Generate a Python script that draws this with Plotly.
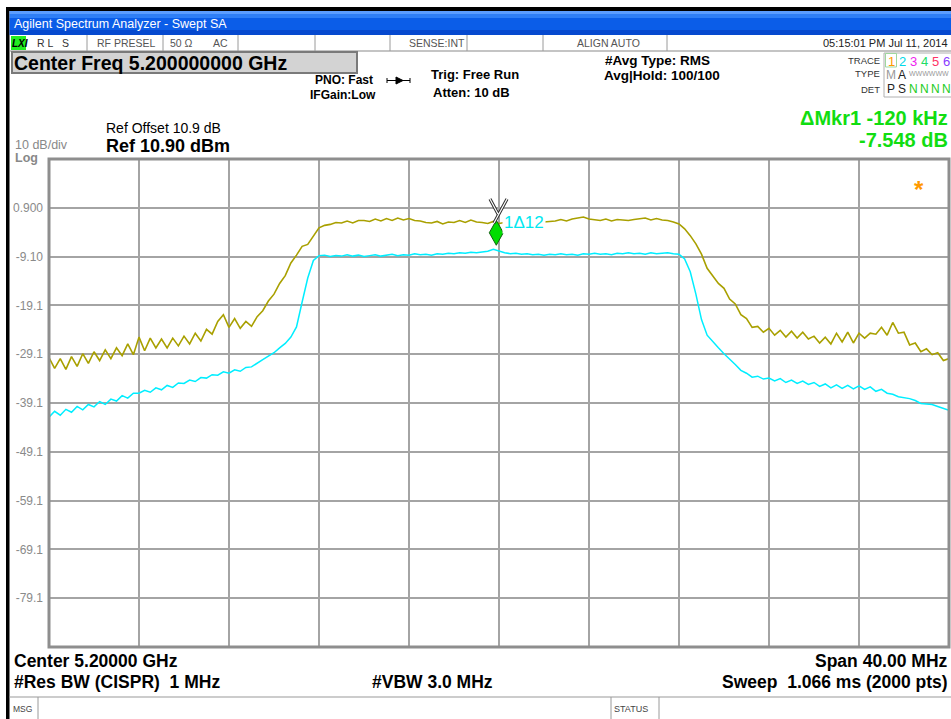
import numpy as np
import plotly.graph_objects as go

# ---------------- data ----------------
CENTER_MHZ = 5200.0
SPAN_MHZ = 40.0
REF_LEVEL_DBM = 10.9
DB_PER_DIV = 10.0
N_DIV = 10

# Trace 1 (max hold, olive) in dBm, 0.25 MHz steps from 5180 to 5220 MHz
trace1_dbm = [
    -29.8, -32.0, -30.0, -32.2, -29.6, -31.6, -29.0, -31.0,
    -28.6, -30.4, -28.2, -30.0, -27.8, -29.4, -27.0, -29.2,
    -25.6, -28.4, -25.8, -27.8, -26.0, -27.8, -25.8, -27.4,
    -25.4, -27.0, -24.8, -26.4, -24.0, -25.0, -22.4, -21.0,
    -23.6, -21.8, -23.8, -22.4, -23.4, -21.4, -20.2, -18.2,
    -16.8, -14.6, -13.0, -10.4, -8.8, -7.0, -6.6, -4.8,
    -3.2, -2.7, -2.5, -2.1, -2.2, -1.8, -2.2, -1.7,
    -1.7, -1.9, -1.4, -1.8, -1.3, -1.7, -1.2, -1.6,
    -1.3, -1.7, -1.8, -2.1, -2.2, -1.9, -2.4, -2.0,
    -2.1, -1.7, -2.1, -1.6, -2.0, -2.1, -2.3, -1.9,
    -2.3, -2.1, -1.9, -2.1, -1.7, -2.1, -1.8, -1.7,
    -2.0, -1.9, -1.8, -1.5, -1.8, -1.4, -1.2, -1.0,
    -1.4, -1.5, -1.7, -1.4, -1.8, -1.5, -1.6, -1.7,
    -1.5, -1.4, -1.2, -1.6, -1.3, -1.6, -1.7, -2.0,
    -2.4, -3.4, -4.8, -6.5, -8.6, -11.5, -13.0, -14.6,
    -15.6, -17.8, -18.8, -21.0, -21.8, -23.6, -23.4, -24.6,
    -23.8, -25.2, -24.2, -25.6, -24.4, -25.8, -24.6, -26.0,
    -25.4, -26.8, -25.6, -27.0, -24.8, -26.6, -24.6, -26.8,
    -24.8, -25.8, -24.8, -25.0, -23.6, -25.2, -22.6, -24.8,
    -24.6, -27.2, -26.8, -28.6, -28.0, -29.2, -28.8, -30.4,
    -30.0,
]

# Trace 2 (average, cyan) in dBm, same frequency grid
trace2_dbm = [
    -42.0, -40.8, -41.6, -40.4, -41.0, -39.8, -40.5, -39.4,
    -39.9, -38.8, -39.4, -38.3, -38.7, -37.6, -38.1, -37.1,
    -37.1, -36.5, -36.9, -36.0, -36.4, -35.5, -35.9, -35.0,
    -35.1, -34.4, -34.7, -33.9, -34.0, -33.3, -33.4, -32.7,
    -33.0, -32.3, -32.6, -31.8, -31.7, -30.9, -30.2, -29.5,
    -28.8, -27.8, -26.9, -25.6, -23.5, -18.4, -13.5, -9.9,
    -8.9, -8.8, -9.1, -8.9, -9.0, -8.7, -9.0, -8.8,
    -9.1, -8.9, -8.7, -9.0, -8.8, -8.6, -8.9, -8.7,
    -8.8, -8.5, -8.7, -8.6, -8.8, -8.5, -8.6, -8.4,
    -8.5, -8.3, -8.4, -8.2, -8.3, -8.1, -8.0, -7.6,
    -8.0, -8.3, -8.5, -8.4, -8.6, -8.5, -8.7, -8.6,
    -8.8, -8.6, -8.7, -8.5, -8.7, -8.6, -8.8, -8.5,
    -8.6, -8.4, -8.6, -8.5, -8.7, -8.4, -8.5, -8.3,
    -8.5, -8.4, -8.6, -8.3, -8.5, -8.4, -8.3, -8.5,
    -8.6, -9.6, -12.2, -16.8, -22.0, -25.2, -26.6, -27.8,
    -29.0, -30.0, -31.2, -32.4, -33.0, -33.8, -33.6, -34.2,
    -34.0, -34.6, -34.1, -34.9, -34.4, -35.1, -34.6, -35.3,
    -34.9, -35.7, -35.2, -36.0, -35.4, -36.1, -35.5, -36.2,
    -35.6, -36.3, -35.8, -36.7, -36.3, -37.1, -37.3, -37.8,
    -38.0, -38.2, -38.6, -39.2, -39.3, -39.4, -39.8, -40.2,
    -40.6,
]

y_tick_vals = [0.9, -9.1, -19.1, -29.1, -39.1, -49.1, -59.1, -69.1, -79.1]
y_tick_text = ["0.900", "-9.10", "-19.1", "-29.1", "-39.1", "-49.1", "-59.1", "-69.1", "-79.1"]

MKR1_FREQ_MHZ = 5199.88     # delta marker 1 on trace 2
MKR1_LEVEL_DBM = -7.8
MKR2_FREQ_MHZ = 5200.0      # reference marker on trace 1
MKR2_LEVEL_DBM = -2.0

freq_mhz = np.linspace(CENTER_MHZ - SPAN_MHZ / 2, CENTER_MHZ + SPAN_MHZ / 2, len(trace1_dbm))
freq2_mhz = np.linspace(CENTER_MHZ - SPAN_MHZ / 2, CENTER_MHZ + SPAN_MHZ / 2, len(trace2_dbm))

# ---------------- layout geometry ----------------
W, H = 951, 719
ML, MR, MT, MB = 49, 2, 159, 72
PW = W - ML - MR
PH = H - MT - MB


def px(x):
    return (x - ML) / PW


def py(y):
    return (H - MB - y) / PH


FONT = "Liberation Sans"

fig = go.Figure()
fig.add_trace(go.Scatter(x=freq_mhz, y=trace1_dbm, mode="lines",
                         line=dict(color="#a9a000", width=1.6), hoverinfo="skip"))
fig.add_trace(go.Scatter(x=freq2_mhz, y=trace2_dbm, mode="lines",
                         line=dict(color="#00eeff", width=1.5), hoverinfo="skip"))

shapes = []


def rect(x0, y0, x1, y1, fill=None, line=None, lw=0):
    shapes.append(dict(type="rect", xref="paper", yref="paper",
                       x0=px(x0), x1=px(x1), y0=py(y1), y1=py(y0),
                       fillcolor=fill if fill else "rgba(0,0,0,0)",
                       line=dict(color=line if line else "rgba(0,0,0,0)", width=lw),
                       layer="above"))


def hline(x0, x1, y, color, lw=1):
    shapes.append(dict(type="line", xref="paper", yref="paper",
                       x0=px(x0), x1=px(x1), y0=py(y), y1=py(y),
                       line=dict(color=color, width=lw), layer="above"))


def vline(x, y0, y1, color, lw=1):
    shapes.append(dict(type="line", xref="paper", yref="paper",
                       x0=px(x), x1=px(x), y0=py(y0), y1=py(y1),
                       line=dict(color=color, width=lw), layer="above"))


# outer black frame
rect(6, 7, W, 11, fill="black")
rect(6, 7, 9.5, H, fill="black")
# title bar gradient
rect(9.5, 11, W, 14, fill="#5b9dff")
rect(9.5, 14, W, 18, fill="#2f7ff6")
rect(9.5, 18, W, 30, fill="#0b5de8")
rect(9.5, 30, W, 35, fill="#0649cf")
# status row
hline(9.5, W, 51, "#8a8a8a", 1.2)
for sx in [87, 163, 238, 315, 390, 467, 543, 667]:
    vline(sx, 35, 51, "#9a9a9a", 1)
rect(11, 36, 26, 50, fill="#22ee22")
# Center Freq box
rect(12, 52, 357, 73, fill="#d3d3d3", line="#7a7a7a", lw=2)
# Trace panel box
rect(884, 53, 952, 97, fill="white", line="#b0b0b0", lw=1)
rect(885.5, 53.5, 896.5, 67, fill=None, line="#9fd79f", lw=1)
# PNO arrow
hline(387, 410, 80.5, "black", 1)
vline(387, 78, 83, "black", 1)
vline(410, 78, 83, "black", 1)
shapes.append(dict(type="path", xref="paper", yref="paper",
                   path=f"M {px(396)},{py(77)} L {px(403)},{py(80.5)} L {px(396)},{py(84)} Z",
                   fillcolor="black", line=dict(color="black", width=1), layer="above"))
# message bar
hline(9.5, W, 697, "#9a9a9a", 1.2)
vline(38, 697, H, "#9a9a9a", 1)
vline(611, 697, H, "#9a9a9a", 1)
vline(659, 697, H, "#9a9a9a", 1)
# plot border
shapes.append(dict(type="rect", xref="paper", yref="paper", x0=0, x1=1, y0=0, y1=1,
                   line=dict(color="#8e8e8e", width=3), layer="above"))

# marker 1 (green diamond) anchored to its trace point, pixel-sized
shapes.append(dict(type="path", xref="x", yref="y", xsizemode="pixel", ysizemode="pixel",
                   xanchor=MKR1_FREQ_MHZ, yanchor=MKR1_LEVEL_DBM,
                   path="M 0,5 L 7,17.5 L 0,30 L -7,17.5 Z",
                   fillcolor="#00dd00", line=dict(color="#106010", width=1), layer="above"))
# marker 2 (reference X) anchored to trace 1
for w, c in [(3.2, "#303030"), (1.2, "white")]:
    shapes.append(dict(type="path", xref="x", yref="y", xsizemode="pixel", ysizemode="pixel",
                       xanchor=MKR2_FREQ_MHZ, yanchor=MKR2_LEVEL_DBM,
                       path="M -9,23 L -1,8 M 8,23 L -5,-1",
                       line=dict(color=c, width=w), layer="above"))

ann = []


def text(t, x, y, size, color="black", bold=False, anchor="left", family=FONT, bg=None):
    d = dict(text=f"<b>{t}</b>" if bold else t, x=px(x), y=py(y), xref="paper", yref="paper",
             xanchor=anchor, yanchor="middle", showarrow=False, borderpad=0,
             font=dict(size=size, color=color, family=family))
    if bg:
        d["bgcolor"] = bg
    ann.append(d)


NB = "\u00a0"
text("Agilent Spectrum Analyzer - Swept SA", 13, 24, 12.5, "white")
text("<i>LXI</i>", 10.5, 43, 10, "black", bold=True)
text(f"R L{NB}{NB}{NB}S", 36, 43, 10.5, "#333333")
text("RF PRESEL", 96, 43, 10.5, "#555555")
text("50 Ω", 169, 43, 10.5, "#555555")
text("AC", 212, 43, 10.5, "#555555")
text("SENSE:INT", 437, 43, 10.5, "#555555", anchor="center")
text("ALIGN AUTO", 608, 43, 10.5, "#555555", anchor="center")
text("05:15:01 PM Jul 11, 2014", 949, 43, 11, "#222222", anchor="right")

text("Center Freq 5.200000000 GHz", 13, 63, 19.5, "black", bold=True)
text("PNO: Fast", 314, 80, 12, bold=True)
text("IFGain:Low", 309, 95, 12, bold=True)
text("Trig: Free Run", 430, 75, 13, bold=True)
text("Atten: 10 dB", 432, 93, 13, bold=True)
text("#Avg Type: RMS", 604, 60, 13.5, bold=True)
text("Avg|Hold: 100/100", 603, 76, 13.5, bold=True)

text("TRACE", 881, 60, 9.5, "#333333", anchor="right")
text("TYPE", 881, 74, 9.5, "#333333", anchor="right")
text("DET", 881, 89, 9.5, "#333333", anchor="right")
for xc, t, c in [(891, "1", "#ff9900"), (902, "2", "#00d8e8"), (913, "3", "#ee22ee"),
                 (924, "4", "#22dd66"), (935, "5", "#ff3366"), (946, "6", "#8a3cff")]:
    text(t, xc, 61, 13, c, anchor="center")
text("M", 891, 75, 12, "#999999", anchor="center")
text("A", 902, 75, 12, "#222222", anchor="center")
text("WWWWWW", 908, 74, 7, "#999999")
text("P", 891, 89, 12, "#222222", anchor="center")
text("S", 902, 89, 12, "#222222", anchor="center")
for xc in [913, 924, 935, 946]:
    text("N", xc, 89, 12, "#22cc22", anchor="center")

text("ΔMkr1 -120 kHz", 949, 117.5, 20, "#11dd11", bold=True, anchor="right")
text("-7.548 dB", 949, 140, 20, "#11dd11", bold=True, anchor="right")

text("Ref Offset 10.9 dB", 105, 128, 14, "black")
text("Ref 10.90 dBm", 105, 146, 18, "black", bold=True)
text("10 dB/div", 14, 145, 12.5, "#888888")
text("Log", 14, 158.5, 12.5, "#888888", bold=True)

text("Center 5.20000 GHz", 13, 661, 17.5, bold=True)
text(f"#Res BW (CISPR){NB}{NB}1 MHz", 13, 682, 17.5, bold=True)
text("#VBW 3.0 MHz", 371, 682, 17.5, bold=True)
text("Span 40.00 MHz", 949, 661, 17.5, bold=True, anchor="right")
text(f"Sweep{NB}{NB}1.066 ms (2000 pts)", 949, 682, 17.5, bold=True, anchor="right")
text("MSG", 12, 709, 8.5, "#444444")
text("STATUS", 613, 709, 9, "#444444")

# orange asterisk inside the plot
text("*", 919, 189, 24, "#ff9900", bold=True, anchor="center")

# marker readout label (white background hides trace behind it)
ann.append(dict(text="1Δ12", x=MKR1_FREQ_MHZ, y=MKR2_LEVEL_DBM, xref="x", yref="y",
                xanchor="left", yanchor="middle", xshift=6, yshift=-1, showarrow=False,
                bgcolor="white", borderpad=1,
                font=dict(size=17, color="#00e8f0", family=FONT)))

fig.update_layout(
    width=W, height=H,
    margin=dict(l=ML, r=MR, t=MT, b=MB, pad=0),
    paper_bgcolor="white", plot_bgcolor="white",
    showlegend=False, hovermode=False,
    shapes=shapes, annotations=ann,
    xaxis=dict(range=[CENTER_MHZ - SPAN_MHZ / 2, CENTER_MHZ + SPAN_MHZ / 2],
               tick0=CENTER_MHZ - SPAN_MHZ / 2, dtick=SPAN_MHZ / N_DIV,
               showticklabels=False, ticks="", showgrid=True,
               gridcolor="#a4a4a4", gridwidth=1.5, zeroline=False, showline=False),
    yaxis=dict(range=[REF_LEVEL_DBM - N_DIV * DB_PER_DIV, REF_LEVEL_DBM],
               tickmode="array", tickvals=y_tick_vals, ticktext=y_tick_text,
               ticks="", ticklabelstandoff=5, showgrid=True,
               gridcolor="#a4a4a4", gridwidth=1.5, zeroline=False, showline=False,
               tickfont=dict(size=12, color="#8a8a8a", family=FONT)),
)

fig.write_html("out.html")
